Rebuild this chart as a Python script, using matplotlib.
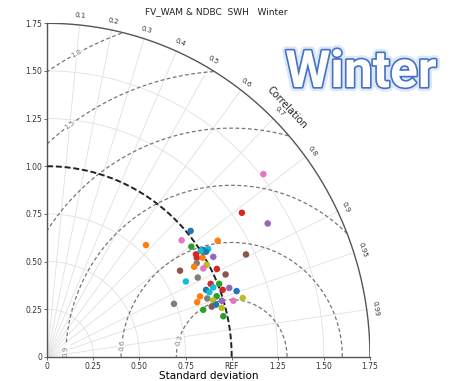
#!/usr/bin/env python3

import matplotlib
matplotlib.use("Agg")
import matplotlib.pyplot as plt
import matplotlib.patheffects as pe
import numpy as np

plt.rcParams['font.family'] = ['DejaVu Sans']

# model std (normalised) and correlation
point_colors = ['#e377c2', '#d62728', '#9467bd', '#1f77b4', '#ff7f0e',
                '#e377c2', '#ff7f0e', '#2ca02c', '#1f77b4', '#17becf',
                '#1f77b4', '#17becf', '#8c564b', '#d62728', '#9467bd',
                '#d62728', '#ff7f0e', '#7f7f7f', '#ff7f0e', '#bcbd22',
                '#e377c2', '#8c564b', '#d62728', '#8c564b', '#7f7f7f',
                '#17becf', '#d62728', '#2ca02c', '#17becf', '#d62728',
                '#1f77b4', '#17becf', '#9467bd', '#1f77b4', '#bcbd22',
                '#ff7f0e', '#2ca02c', '#7f7f7f', '#bcbd22', '#9467bd',
                '#e377c2', '#ff7f0e', '#8c564b', '#2ca02c', '#bcbd22',
                '#2ca02c', '#1f77b4', '#7f7f7f']
stds = [1.514, 1.298, 1.385, 1.020, 0.794, 0.951, 1.107, 0.972, 1.015, 1.040,
        1.022, 1.000, 1.204, 0.969, 1.042, 0.963, 0.990, 0.948, 0.926, 0.990,
        0.965, 0.850, 1.029, 1.059, 0.916, 0.849, 0.965, 1.008, 0.971, 1.014,
        0.930, 0.942, 1.051, 1.083, 1.104, 0.887, 0.972, 0.920, 0.947, 0.991,
        1.051, 0.862, 0.930, 0.881, 0.980, 0.978, 0.955, 0.741]
corrs = [0.774, 0.813, 0.863, 0.762, 0.674, 0.766, 0.835, 0.804, 0.834, 0.839,
         0.842, 0.832, 0.895, 0.832, 0.864, 0.842, 0.851, 0.855, 0.860, 0.873,
         0.877, 0.847, 0.894, 0.913, 0.891, 0.885, 0.918, 0.925, 0.927, 0.938,
         0.926, 0.933, 0.939, 0.948, 0.960, 0.934, 0.945, 0.943, 0.950, 0.955,
         0.960, 0.943, 0.959, 0.960, 0.965, 0.976, 0.958, 0.927]

ref_std = 1.0
max_std = 1.75
corr_ticks = [0.1, 0.2, 0.3, 0.4, 0.5, 0.6, 0.7, 0.8, 0.9, 0.95, 0.99]
std_ticks = [0, 0.25, 0.5, 0.75, 1.0, 1.25, 1.5, 1.75]
std_labels = ['0', '0.25', '0.50', '0.75', 'REF', '1.25', '1.50', '1.75']
ystd_labels = ['0', '0.25', '0.50', '0.75', '1.00', '1.25', '1.50', '1.75']
rms_levels = [0.3, 0.6, 0.9, 1.2, 1.5, 1.8]
rms_label_angles = {0.3: 163, 0.6: 174, 0.9: 178, 1.5: 126, 1.8: 118}

fig = plt.figure(figsize=(4.6, 3.81), dpi=100)
ax = fig.add_axes([0.1028, 0.0635, 0.7015, 0.8753])
ax.set_xlim(0, max_std)
ax.set_ylim(0, max_std)

theta = np.linspace(0, np.pi / 2, 300)

# std grid arcs
for s in std_ticks[1:-1]:
    ax.plot(s * np.cos(theta), s * np.sin(theta), color='#e0e0e0', lw=0.6, zorder=1)
# correlation rays
for c in corr_ticks:
    a = np.arccos(c)
    ax.plot([0, max_std * np.cos(a)], [0, max_std * np.sin(a)],
            color='#e0e0e0', lw=0.6, zorder=1)
    ax.text(1.80 * np.cos(a), 1.80 * np.sin(a), str(c), fontsize=5,
            rotation=np.degrees(a) - 90, ha='center', va='center', color='#333333')

# outer arc
ax.plot(max_std * np.cos(theta), max_std * np.sin(theta), color='#555555', lw=1.0, zorder=3)

# centred RMS contours
for r in rms_levels:
    t = np.linspace(0, np.pi, 600)
    xs = ref_std + r * np.cos(t)
    ys = r * np.sin(t)
    keep = np.hypot(xs, ys) <= max_std
    xs = np.where(keep, xs, np.nan)
    ys = np.where(keep, ys, np.nan)
    ax.plot(xs, ys, color='#777777', lw=0.9, ls=(0, (3, 2)), zorder=2)
    if r in rms_label_angles:
        ang = np.radians(rms_label_angles[r])
        ax.text(ref_std + r * np.cos(ang), r * np.sin(ang), str(r), fontsize=5,
                rotation=np.degrees(ang) - 90, ha='center', va='center',
                color='#777777', zorder=2,
                bbox=dict(facecolor='white', edgecolor='none', pad=0.3))

# reference std arc
ax.plot(ref_std * np.cos(theta), ref_std * np.sin(theta), color='#222222',
        lw=1.4, ls=(0, (3, 1.5)), zorder=3)

# model points
xs = np.array(stds) * np.array(corrs)
ys = np.array(stds) * np.sqrt(1 - np.array(corrs) ** 2)
ax.scatter(xs, ys, s=22, c=point_colors, edgecolors='none', zorder=5)

# axes styling
for side in ['top', 'right']:
    ax.spines[side].set_visible(False)
for side in ['left', 'bottom']:
    ax.spines[side].set_color('#555555')
    ax.spines[side].set_linewidth(1.0)
ax.set_xticks(std_ticks)
ax.set_xticklabels(std_labels)
ax.set_yticks(std_ticks)
ax.set_yticklabels(ystd_labels)
ax.tick_params(labelsize=5.5, length=2, width=0.5, colors='#333333', pad=1.5)
ax.set_xlabel('Standard deviation', fontsize=7.5, labelpad=0)

ax.text(1.30, 1.31, 'Correlation', fontsize=7, rotation=-47,
        ha='center', va='center', color='#222222')

fig.text(216 / 460, 1 - 12 / 381, 'FV_WAM & NDBC  SWH   Winter', fontsize=6.5,
         ha='center', va='center', color='#222222')

win = fig.text(361 / 460, 1 - 73 / 381, 'Winter', fontsize=37, fontweight='bold',
               ha='center', va='center', color='white',
               family=['Liberation Sans Narrow', 'Roboto', 'DejaVu Sans'])
win.set_path_effects([pe.withStroke(linewidth=6, foreground='#c8d8f0', alpha=0.6),
                      pe.withStroke(linewidth=2.4, foreground='#4472c4')])

fig.savefig('out.png', dpi=100)
